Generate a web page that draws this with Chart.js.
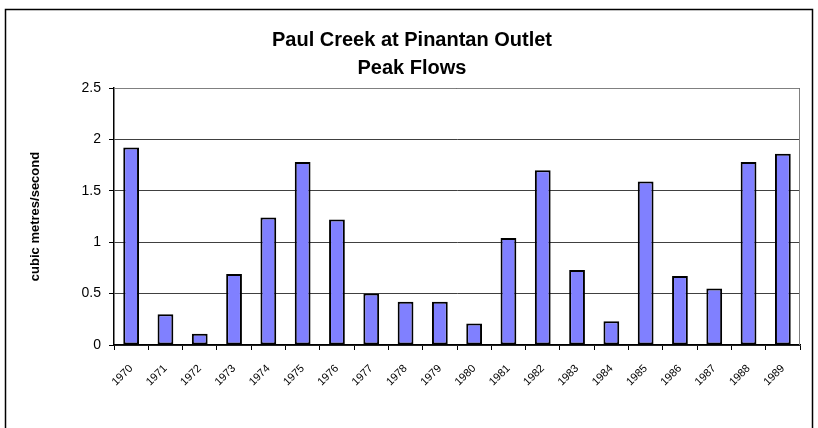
<!DOCTYPE html>
<html>
<head>
<meta charset="utf-8">
<script src="https://cdn.jsdelivr.net/npm/chart.js@4/dist/chart.umd.min.js"></script>
<style>
  html, body { margin: 0; padding: 0; background: #fff; }
  #wrap { width: 818px; height: 428px; position: relative; }
</style>
</head>
<body>
<div id="wrap"><canvas id="c" width="818" height="428"></canvas></div>
<script>
// Annual peak flow, Paul Creek at Pinantan Outlet
const years = ['1970','1971','1972','1973','1974','1975','1976','1977','1978','1979',
               '1980','1981','1982','1983','1984','1985','1986','1987','1988','1989'];
const peakFlows = [1.92, 0.30, 0.11, 0.69, 1.24, 1.78, 1.22, 0.50, 0.42, 0.42,
                   0.21, 1.04, 1.70, 0.73, 0.23, 1.59, 0.67, 0.55, 1.78, 1.86];
const yTicks = [0, 0.5, 1, 1.5, 2, 2.5];

// Outer frame and plot-area outline
const framePlugin = {
  id: 'frame',
  beforeDraw(chart) {
    const ctx = chart.ctx;
    ctx.save();
    ctx.fillStyle = '#fff';
    ctx.fillRect(0, 0, chart.width, chart.height);
    ctx.strokeStyle = '#000';
    ctx.lineWidth = 1.5;
    ctx.strokeRect(5.5, 9.5, 807, 430);
    ctx.restore();
  },
  afterDatasetsDraw(chart) {
    const a = chart.chartArea;
    const ctx = chart.ctx;
    ctx.save();
    ctx.strokeStyle = '#808080';
    ctx.lineWidth = 1;
    ctx.beginPath();
    ctx.moveTo(a.left, a.top + 0.5);
    ctx.lineTo(a.right - 0.5, a.top + 0.5);
    ctx.lineTo(a.right - 0.5, a.bottom);
    ctx.stroke();
    ctx.restore();
  }
};

new Chart(document.getElementById('c'), {
  type: 'bar',
  data: {
    labels: years,
    datasets: [{
      data: peakFlows,
      backgroundColor: '#8080FF',
      borderColor: '#000',
      borderWidth: 2,
      borderSkipped: false,
      barPercentage: 0.46,
      categoryPercentage: 1.0
    }]
  },
  options: {
    responsive: false,
    animation: false,
    layout: { padding: { left: 24, right: 18, top: 0, bottom: 0 } },
    plugins: {
      legend: { display: false },
      tooltip: { enabled: false },
      title: {
        display: true,
        text: ['Paul Creek at Pinantan Outlet', 'Peak Flows'],
        color: '#000',
        font: { family: 'Liberation Sans, Arial, sans-serif', size: 20, weight: 'bold', lineHeight: 28 / 20 },
        padding: { top: 26, bottom: 6 }
      }
    },
    scales: {
      x: {
        offset: true,
        grid: {
          offset: true,
          drawOnChartArea: false,
          drawTicks: true,
          tickLength: 5,
          color: '#000',
          lineWidth: 1
        },
        border: { color: '#000', width: 1.5 },
        ticks: {
          color: '#000',
          minRotation: 45,
          maxRotation: 45,
          autoSkip: false,
          padding: 12,
          font: { family: 'Liberation Sans, Arial, sans-serif', size: 11 }
        },
        afterFit(scale) { scale.height = 83; }
      },
      y: {
        min: 0,
        max: 2.5,
        afterBuildTicks(scale) { scale.ticks = yTicks.map(v => ({ value: v })); },
        grid: {
          color: '#404040',
          lineWidth: 1,
          tickLength: 5,
          tickColor: '#000'
        },
        border: { color: '#000', width: 1.5 },
        ticks: {
          color: '#000',
          padding: 8,
          font: { family: 'Liberation Sans, Arial, sans-serif', size: 14 },
          callback: (v) => String(v)
        },
        title: {
          display: true,
          text: 'cubic metres/second',
          color: '#000',
          font: { family: 'Liberation Sans, Arial, sans-serif', size: 13, weight: 'bold' },
          padding: { top: 4, bottom: 4 }
        },
        afterFit(scale) { scale.width = 90; }
      }
    }
  },
  plugins: [framePlugin]
});
</script>
</body>
</html>
